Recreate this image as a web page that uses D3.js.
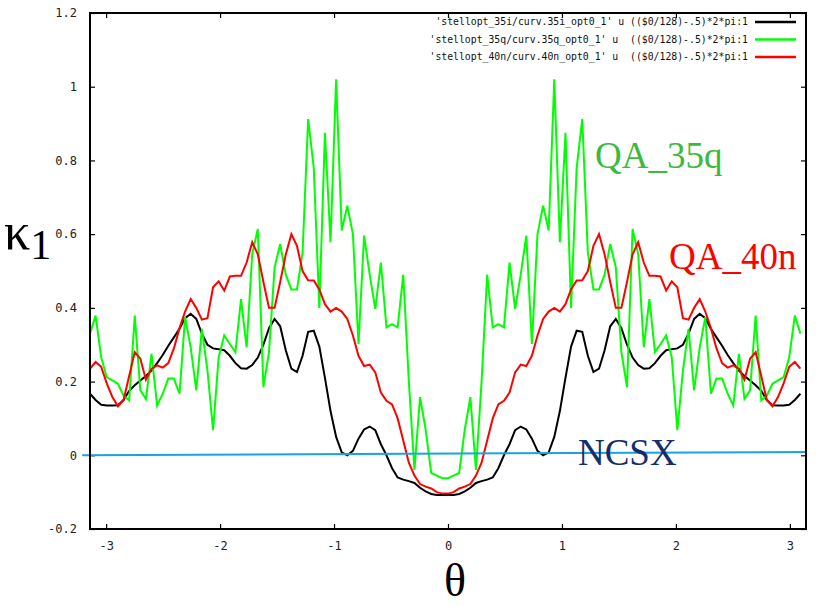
<!DOCTYPE html>
<html><head><meta charset="utf-8">
<script src="https://cdn.jsdelivr.net/npm/d3@7"></script>
<style>body{margin:0;background:#fff} svg{display:block}</style>
</head><body><svg id="c" width="817" height="606"></svg>
<script>
// ---------- data ----------
const xTicks = [-3, -2, -1, 0, 1, 2, 3];
const xTickLabels = ["-3", "-2", "-1", "0", "1", "2", "3"];
const yTicks = [-0.2, 0, 0.2, 0.4, 0.6, 0.8, 1, 1.2];
const yTickLabels = ["-0.2", "0", "0.2", "0.4", "0.6", "0.8", "1", "1.2"];

const legendLabels = [
  "'stellopt_35i/curv.35i_opt0_1' u ((\$0/128)-.5)*2*pi:1",
  "'stellopt_35q/curv.35q_opt0_1' u  ((\$0/128)-.5)*2*pi:1",
  "'stellopt_40n/curv.40n_opt0_1' u  ((\$0/128)-.5)*2*pi:1"
];
const seriesColors = ["#000000", "#00ff00", "#ff0000"];

// kappa_1 for 128 samples, index $0 = 0..127
const curv35i = [
  0.167,0.15,0.137,0.135,0.135,0.136,0.15,0.175,0.19,0.203,
  0.215,0.23,0.25,0.272,0.297,0.32,0.343,0.372,0.384,0.37,
  0.33,0.30,0.29,0.288,0.285,0.27,0.25,0.236,0.235,0.245,
  0.265,0.30,0.345,0.37,0.35,0.285,0.235,0.226,0.27,0.335,
  0.338,0.295,0.21,0.12,0.05,0.008,0.0,0.012,0.045,0.07,
  0.078,0.068,0.03,0.0,-0.035,-0.06,-0.066,-0.07,-0.075,-0.088,
  -0.098,-0.105,-0.108,-0.108,
  -0.108,-0.108,-0.105,-0.098,
  -0.088,-0.075,-0.07,-0.066,-0.06,-0.035,0.0,0.03,0.068,0.078,
  0.07,0.045,0.012,0.0,0.008,0.05,0.12,0.21,0.295,0.338,
  0.335,0.27,0.226,0.235,0.285,0.35,0.37,0.345,0.30,0.265,
  0.245,0.235,0.236,0.25,0.27,0.285,0.288,0.29,0.30,0.33,
  0.37,0.384,0.372,0.343,0.32,0.297,0.272,0.25,0.23,0.215,
  0.203,0.19,0.175,0.15,0.136,0.135,0.135,0.137,0.15,0.167
];
const curv35q = [
  0.33,0.379,0.266,0.212,0.203,0.194,0.162,0.149,0.379,0.176,
  0.153,0.275,0.135,0.167,0.208,0.208,0.167,0.375,0.293,0.176,
  0.343,0.23,0.068,0.266,0.325,0.302,0.28,0.424,0.293,0.546,
  0.614,0.185,0.28,0.51,0.573,0.49,0.45,0.45,0.55,0.912,
  0.78,0.40,0.875,0.578,1.02,0.61,0.677,0.60,0.302,0.596,
  0.49,0.397,0.523,0.347,0.356,0.347,0.49,0.20,-0.04,0.158,
  0.07,-0.048,-0.055,-0.062,
  -0.062,-0.055,-0.048,0.07,
  0.158,-0.04,0.20,0.49,0.347,0.356,0.347,0.523,0.397,0.49,
  0.596,0.302,0.60,0.677,0.61,1.02,0.578,0.875,0.40,0.78,
  0.912,0.55,0.45,0.45,0.49,0.573,0.51,0.28,0.185,0.614,
  0.546,0.293,0.424,0.28,0.302,0.325,0.266,0.068,0.23,0.343,
  0.176,0.293,0.375,0.167,0.208,0.208,0.167,0.135,0.275,0.153,
  0.176,0.379,0.149,0.162,0.194,0.203,0.212,0.266,0.379,0.33
];
const curv40n = [
  0.235,0.253,0.24,0.195,0.158,0.133,0.15,0.215,0.28,0.262,
  0.205,0.235,0.244,0.238,0.25,0.29,0.345,0.39,0.424,0.40,
  0.368,0.372,0.456,0.472,0.447,0.485,0.487,0.487,0.523,0.578,
  0.545,0.47,0.40,0.40,0.47,0.545,0.60,0.568,0.50,0.475,
  0.474,0.45,0.41,0.39,0.40,0.39,0.37,0.325,0.27,0.242,
  0.246,0.225,0.17,0.148,0.138,0.10,0.04,-0.02,-0.055,-0.078,
  -0.085,-0.09,-0.1,-0.104,
  -0.104,-0.1,-0.09,-0.085,
  -0.078,-0.055,-0.02,0.04,0.10,0.138,0.148,0.17,0.225,0.246,
  0.242,0.27,0.325,0.37,0.39,0.40,0.39,0.41,0.45,0.474,
  0.475,0.50,0.568,0.60,0.545,0.47,0.40,0.40,0.47,0.545,
  0.578,0.523,0.487,0.487,0.485,0.447,0.472,0.456,0.372,0.368,
  0.40,0.424,0.39,0.345,0.29,0.25,0.238,0.244,0.235,0.205,
  0.262,0.28,0.215,0.15,0.133,0.158,0.195,0.24,0.253,0.235
];

// NCSX reference line (annotation)
const ncsxTheta = [-3.21, 3.1416];
const ncsxValues = [0.0, 0.009];

const annotationTexts = ["QA_35q", "QA_40n", "NCSX"];
const annotationColors = ["#3dba3d", "#ff0000", "#142e6b"];
const annotationTheta = [1.29, 1.94, 1.14];
const annotationValue = [0.78, 0.506, -0.027];

// ---------- chart ----------
const svg = d3.select("#c");
svg.append("rect").attr("width", 817).attr("height", 606).attr("fill", "#fff");

const L = 90, R = 806, T = 13, B = 529;
const x = d3.scaleLinear().domain([-Math.PI, Math.PI]).range([L, R]);
const y = d3.scaleLinear().domain([-0.2, 1.2]).range([B, T]);

const theta = d3.range(curv35i.length).map(i => (i / 128 - 0.5) * 2 * Math.PI);

const tickFont = "'DejaVu Sans Mono', monospace";

// axes
const ax = svg.append("g").attr("transform", `translate(0,${B})`)
  .call(d3.axisBottom(x).tickValues(xTicks).tickFormat((d, i) => xTickLabels[i]).tickSize(-5).tickPadding(12));
const ay = svg.append("g").attr("transform", `translate(${L},0)`)
  .call(d3.axisLeft(y).tickValues(yTicks).tickFormat((d, i) => yTickLabels[i]).tickSize(-5).tickPadding(13));
const at = svg.append("g").attr("transform", `translate(0,${T})`)
  .call(d3.axisTop(x).tickValues(xTicks).tickFormat("").tickSize(-5));
const ar = svg.append("g").attr("transform", `translate(${R},0)`)
  .call(d3.axisRight(y).tickValues(yTicks).tickFormat("").tickSize(-5));
[ax, ay, at, ar].forEach(g => {
  g.select(".domain").remove();
  g.selectAll(".tick line").attr("stroke", "#000").attr("stroke-width", 1.2);
  g.selectAll(".tick text").attr("font-family", tickFont).attr("font-size", 12).attr("fill", "#222");
});

// curves
const line = d3.line().x((d, i) => x(theta[i])).y(d => y(d));
const series = [curv35i, curv35q, curv40n];
series.forEach((s, k) => {
  svg.append("path").datum(s).attr("d", line)
    .attr("fill", "none").attr("stroke", seriesColors[k])
    .attr("stroke-width", 2).attr("stroke-linejoin", "miter");
});

// NCSX line
svg.append("path")
  .datum(ncsxValues)
  .attr("d", d3.line().x((d, i) => x(ncsxTheta[i])).y(d => y(d)))
  .attr("stroke", "#18a4e0").attr("stroke-width", 2).attr("fill", "none");

// border
svg.append("rect").attr("x", L).attr("y", T).attr("width", R - L).attr("height", B - T)
  .attr("fill", "none").attr("stroke", "#000").attr("stroke-width", 2);

// legend
const lg = svg.append("g");
legendLabels.forEach((t, k) => {
  const yy = 22 + k * 17.5;
  lg.append("text").attr("x", 748).attr("y", yy).attr("dy", "0.35em")
    .attr("text-anchor", "end").attr("font-family", tickFont).attr("font-size", 9.8)
    .attr("fill", "#111").style("white-space", "pre").text(t);
  lg.append("line").attr("x1", 755).attr("x2", 796).attr("y1", yy).attr("y2", yy)
    .attr("stroke", seriesColors[k]).attr("stroke-width", 2.5);
});

// annotations
annotationTexts.forEach((t, k) => {
  svg.append("text").attr("x", x(annotationTheta[k])).attr("y", y(annotationValue[k]))
    .attr("font-family", "'Liberation Serif', 'Times New Roman', serif").attr("font-size", 37)
    .attr("fill", annotationColors[k]).text(t);
});

// axis titles
const kap = svg.append("text").attr("x", 4).attr("y", 249)
  .attr("font-family", "'Liberation Serif', serif").attr("fill", "#000");
kap.append("tspan").attr("font-size", 52).text("κ");
kap.append("tspan").attr("font-size", 42).attr("dy", 10).text("1");

svg.append("text").attr("x", 455).attr("y", 596).attr("text-anchor", "middle")
  .attr("font-family", "'Liberation Serif', serif").attr("font-size", 46).attr("fill", "#000").text("θ");
</script>
</body></html>
